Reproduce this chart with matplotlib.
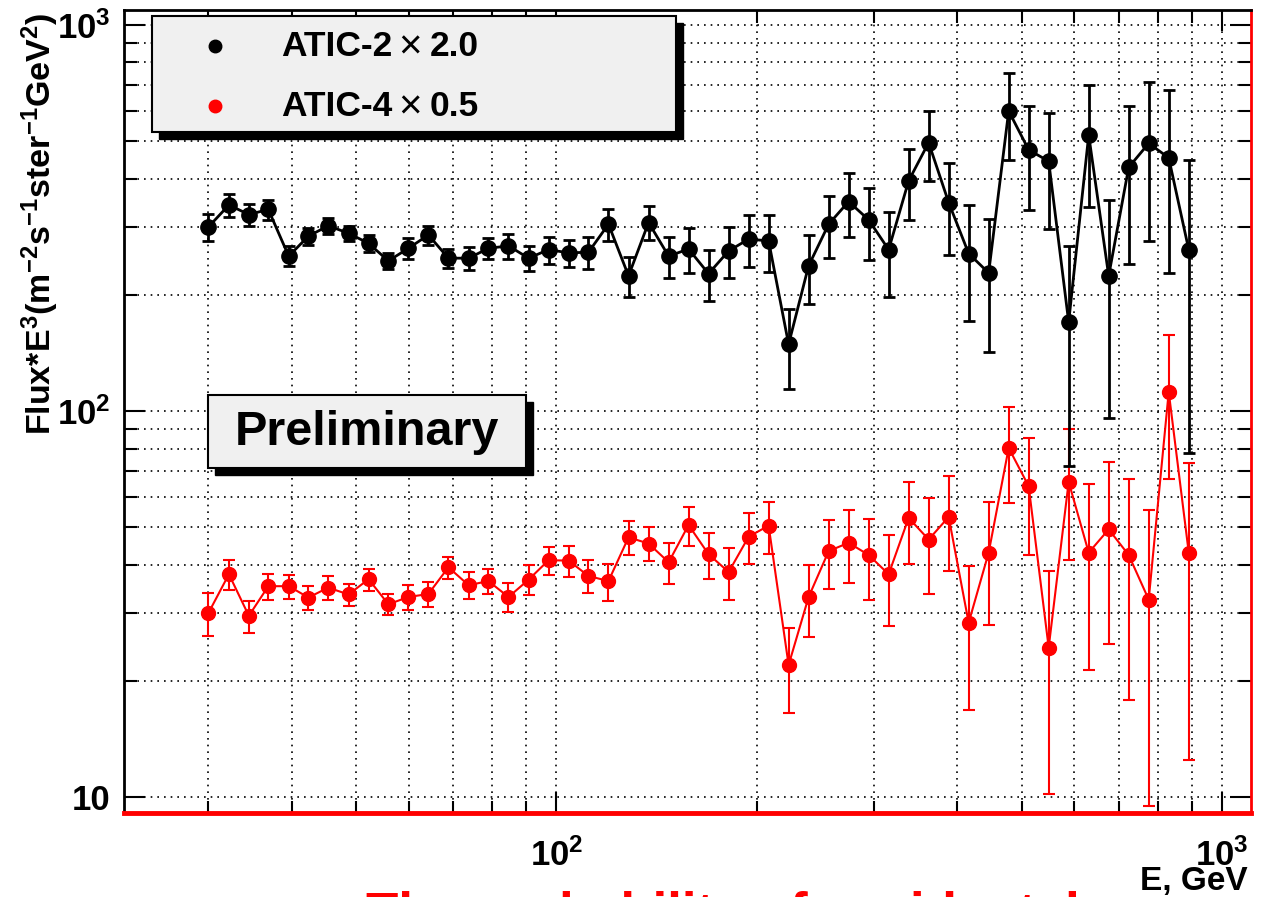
import math
import matplotlib
matplotlib.use("Agg")
import matplotlib.pyplot as plt
from matplotlib.ticker import FixedLocator, FuncFormatter, NullFormatter
from matplotlib.patches import Rectangle
from matplotlib.lines import Line2D

plt.rcParams['font.family'] = ['Liberation Sans', 'DejaVu Sans']
plt.rcParams['font.weight'] = 'bold'
plt.rcParams['mathtext.fontset'] = 'custom'
plt.rcParams['mathtext.rm'] = 'Liberation Sans:bold'
plt.rcParams['mathtext.it'] = 'Liberation Sans:bold:italic'
plt.rcParams['mathtext.bf'] = 'Liberation Sans:bold'

# Energy bin centres, GeV
energy = [30.0, 32.2, 34.5, 36.9, 39.6, 42.4, 45.4, 48.7, 52.2, 55.9,
          59.9, 64.2, 68.8, 73.8, 79.0, 84.7, 90.8, 97.3, 104.3, 111.7,
          119.7, 128.3, 137.5, 147.4, 157.9, 169.2, 181.4, 194.4, 208.3, 223.2,
          239.2, 256.4, 274.7, 294.4, 315.5, 338.1, 362.3, 388.3, 416.1, 445.9,
          477.9, 512.1, 548.8, 588.1, 630.3, 675.4, 723.8, 775.7, 831.3, 890.9]

# ATIC-2 flux * E^3 (scaled by 2.0) and its uncertainty
atic2_flux = [300, 342, 323, 333, 252, 284, 302, 289, 272, 245,
              264, 286, 249, 249, 264, 268, 249, 262, 257, 258,
              305, 224, 308, 252, 263, 227, 260, 279, 276, 149,
              238, 305, 349, 313, 262, 395, 496, 347, 256, 228,
              599, 475, 444, 170, 519, 224, 428, 494, 453, 262]
atic2_err = [24, 24, 21, 20, 15, 14, 15, 12.5, 14, 12,
             16, 16, 14, 17, 16, 20, 19, 21, 21, 24,
             29, 27, 31, 31, 35, 34, 39, 43, 47, 35,
             48, 56, 66, 66, 65, 83, 102, 93, 85, 86,
             151, 143, 148, 98, 181, 128, 188, 218, 225, 184]

# ATIC-4 flux * E^3 (scaled by 0.5) and its uncertainty
atic4_flux = [30.0, 37.8, 29.5, 35.2, 35.2, 32.9, 34.9, 33.5, 36.7, 31.6,
              33.0, 33.6, 39.4, 35.4, 36.3, 33.0, 36.6, 41.1, 41.0, 37.4,
              36.3, 47.1, 45.4, 40.6, 50.7, 42.6, 38.3, 47.3, 50.5, 22.0,
              33.0, 43.4, 45.6, 42.4, 37.8, 52.9, 46.5, 53.2, 28.3, 43.0,
              80.3, 63.9, 24.4, 65.6, 43.0, 49.4, 42.4, 32.5, 112.2, 43.0]
atic4_err = [3.8, 3.4, 2.8, 2.7, 2.5, 2.4, 2.4, 2.2, 2.4, 2.0,
             2.4, 2.5, 2.6, 2.8, 2.8, 2.9, 3.3, 3.4, 3.8, 3.7,
             4.0, 4.7, 4.6, 5.0, 5.9, 5.8, 5.9, 7.1, 7.8, 5.5,
             7.0, 8.8, 9.8, 10.0, 10.0, 12.7, 12.9, 14.7, 11.5, 15.1,
             22.4, 21.5, 14.2, 24.5, 21.6, 24.5, 24.5, 23.0, 45.5, 30.5]

series_names = ["ATIC-2", "ATIC-4"]
series_scales = ["2.0", "0.5"]
series_colors = ["black", "red"]

W, H = 1261, 897
fig = plt.figure(figsize=(W / 100, H / 100), dpi=100)
renderer = fig.canvas.get_renderer()


def fx(px):
    return px / W


def fy(py):
    return 1 - py / H


ax = fig.add_axes([fx(124), fy(813), (1251 - 124) / W, (813 - 10) / H])
ax.set_xscale('log')
ax.set_yscale('log')
ax.set_xlim(22.4, 1105)
ax.set_ylim(9.1, 1094)

ax.errorbar(energy, atic4_flux, yerr=atic4_err, fmt='-o', color='red',
            ms=10, lw=1.5, elinewidth=1.5, capsize=4, capthick=1.5, zorder=3)
ax.errorbar(energy, atic2_flux, yerr=atic2_err, fmt='-o', color='black',
            ms=11, lw=2, elinewidth=2, capsize=4, capthick=2, zorder=4)

# ticks and grid
ax.xaxis.set_major_locator(FixedLocator([100, 1000]))
ax.xaxis.set_minor_locator(FixedLocator([30, 40, 50, 60, 70, 80, 90,
                                         200, 300, 400, 500, 600, 700, 800, 900]))
ax.yaxis.set_major_locator(FixedLocator([10, 100, 1000]))
ax.yaxis.set_minor_locator(FixedLocator([20, 30, 40, 50, 60, 70, 80, 90,
                                         200, 300, 400, 500, 600, 700, 800, 900]))


def pow_label(v, _):
    e = int(round(math.log10(v)))
    return '10' if e == 1 else r'$10^{%d}$' % e


ax.xaxis.set_major_formatter(FuncFormatter(pow_label))
ax.yaxis.set_major_formatter(FuncFormatter(pow_label))
ax.xaxis.set_minor_formatter(NullFormatter())
ax.yaxis.set_minor_formatter(NullFormatter())

ax.tick_params(which='both', direction='in', top=True, right=True,
               labelsize=25, width=1.5, color='black')
ax.tick_params(which='major', length=15)
ax.tick_params(which='minor', length=9)
ax.tick_params(axis='x', pad=18)
ax.tick_params(axis='y', pad=10)

ax.grid(True, which='both', color='black', linestyle=(0, (1, 3)), linewidth=1.2)
ax.set_axisbelow(True)

for side in ('left', 'top'):
    ax.spines[side].set_color('black')
    ax.spines[side].set_linewidth(2)
ax.spines['bottom'].set_color('red')
ax.spines['bottom'].set_linewidth(3.5)
ax.spines['right'].set_color('red')
ax.spines['right'].set_linewidth(2)

# axis titles
fig.text(fx(40), fy(13),
         r'Flux*E$^{3}$(m$^{-2}$s$^{-1}$ster$^{-1}$GeV$^{2}$)',
         rotation=90, ha='center', va='top', fontsize=24.5)
fig.text(fx(1248), fy(881), 'E, GeV', ha='right', va='center', fontsize=24)


def shadow_box(x0, y0, x1, y1, off=7):
    fig.add_artist(Rectangle((fx(x0 + off), fy(y1 + off)), (x1 - x0) / W, (y1 - y0) / H,
                             transform=fig.transFigure, facecolor='black',
                             edgecolor='black', zorder=5))
    fig.add_artist(Rectangle((fx(x0), fy(y1)), (x1 - x0) / W, (y1 - y0) / H,
                             transform=fig.transFigure, facecolor='#f0f0f0',
                             edgecolor='black', linewidth=1.5, zorder=6))


# legend
shadow_box(152, 16, 676, 132)
for i, (name, scale, col) in enumerate(zip(series_names, series_scales, series_colors)):
    yy = 46 + 60 * i
    fig.add_artist(Line2D([fx(215)], [fy(yy)], marker='o', color=col, ms=9,
                          transform=fig.transFigure, zorder=7))
    t_name = fig.text(fx(281), fy(yy), name, ha='left', va='center',
                      fontsize=25.5, zorder=7)
    x_end = t_name.get_window_extent(renderer).x1
    t_times = fig.text(x_end / W + fx(6), fy(yy + 1), '\u00d7', ha='left', va='center',
                       fontsize=29, fontweight='normal', zorder=7)
    x_end = t_times.get_window_extent(renderer).x1
    fig.text(x_end / W + fx(8), fy(yy), scale, ha='left', va='center',
             fontsize=25.5, zorder=7)

# preliminary label
shadow_box(208, 395, 526, 468)
fig.text(fx(367), fy(432), 'Preliminary', ha='center', va='center',
         fontsize=35, zorder=7)

# caption running off the bottom edge
fig.text(fx(366), fy(930), 'The probability of accidental', color='red',
         fontsize=38, ha='left', va='baseline')

fig.savefig('out.png', dpi=100)
